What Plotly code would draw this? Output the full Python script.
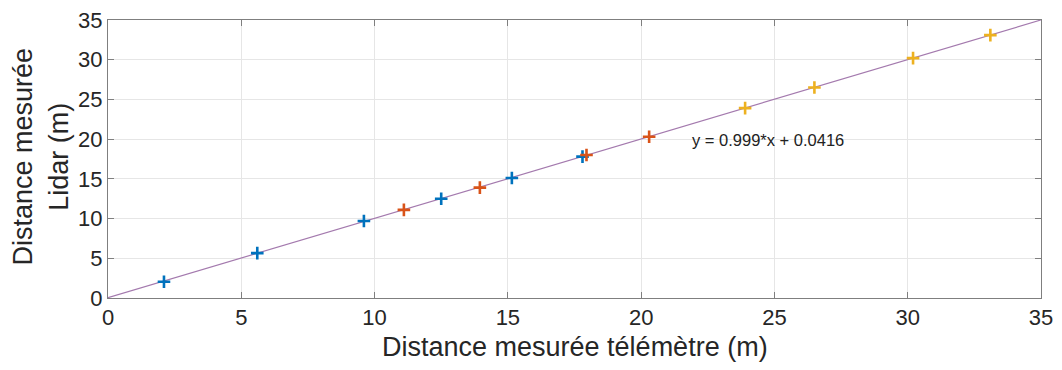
import plotly.graph_objects as go

# Data
blue_x = [2.1, 5.6, 9.6, 12.5, 15.15, 17.8]
blue_y = [2.05, 5.65, 9.7, 12.5, 15.1, 17.8]
orange_x = [11.1, 13.95, 17.95, 20.3]
orange_y = [11.1, 13.9, 18.0, 20.3]
yellow_x = [23.9, 26.5, 30.2, 33.1]
yellow_y = [23.9, 26.5, 30.2, 33.1]
fit_slope = 0.999
fit_intercept = 0.0416
fit_x = [0, 35]
fit_y = [fit_slope * v + fit_intercept for v in fit_x]
eq_label = "y = 0.999*x + 0.0416"
x_title = "Distance mesurée télémètre (m)"
y_title = "Distance mesurée<br>Lidar (m)"

FONT = "Liberation Sans, Arial, sans-serif"
TXT = "#262626"

fig = go.Figure()
fig.add_trace(go.Scatter(x=fit_x, y=fit_y, mode="lines",
                         line=dict(color="#A47AAE", width=1.2), showlegend=False))
for xs, ys, col in [(blue_x, blue_y, "#0072BD"), (orange_x, orange_y, "#D95319"),
                    (yellow_x, yellow_y, "#EDB120")]:
    fig.add_trace(go.Scatter(x=xs, y=ys, mode="markers", showlegend=False,
                             marker=dict(symbol="cross-thin", size=9,
                                         line=dict(color=col, width=2.6))))

fig.add_annotation(x=21.85, y=19.9, text=eq_label, showarrow=False,
                   xanchor="left", yanchor="middle",
                   font=dict(family=FONT, size=16.5, color="#222222"))

fig.add_annotation(xref="paper", yref="paper", x=0.5, y=-0.1763, text=x_title,
                   showarrow=False, xanchor="center", yanchor="middle",
                   font=dict(family=FONT, size=27, color=TXT))
fig.add_annotation(xref="paper", yref="paper", x=-0.0723, y=0.507, text=y_title,
                   showarrow=False, xanchor="center", yanchor="middle", textangle=-90,
                   font=dict(family=FONT, size=27, color=TXT))

axis_common = dict(showgrid=True, gridcolor="#E6E6E6", gridwidth=1,
                   showline=True, linecolor="#7F7F7F", linewidth=1, mirror="ticks",
                   ticks="inside", ticklen=6, tickcolor="#7F7F7F", automargin=False,
                   ticklabeloverflow="allow",
                   zeroline=False, tickfont=dict(family=FONT, size=22, color=TXT),
                   range=[0, 35], dtick=5)

fig.update_layout(
    width=1046, height=354,
    margin=dict(l=100, r=13, t=12, b=64),
    paper_bgcolor="white", plot_bgcolor="white",
    xaxis=dict(**axis_common),
    yaxis=dict(**axis_common),
)

fig.write_html("out.html")
